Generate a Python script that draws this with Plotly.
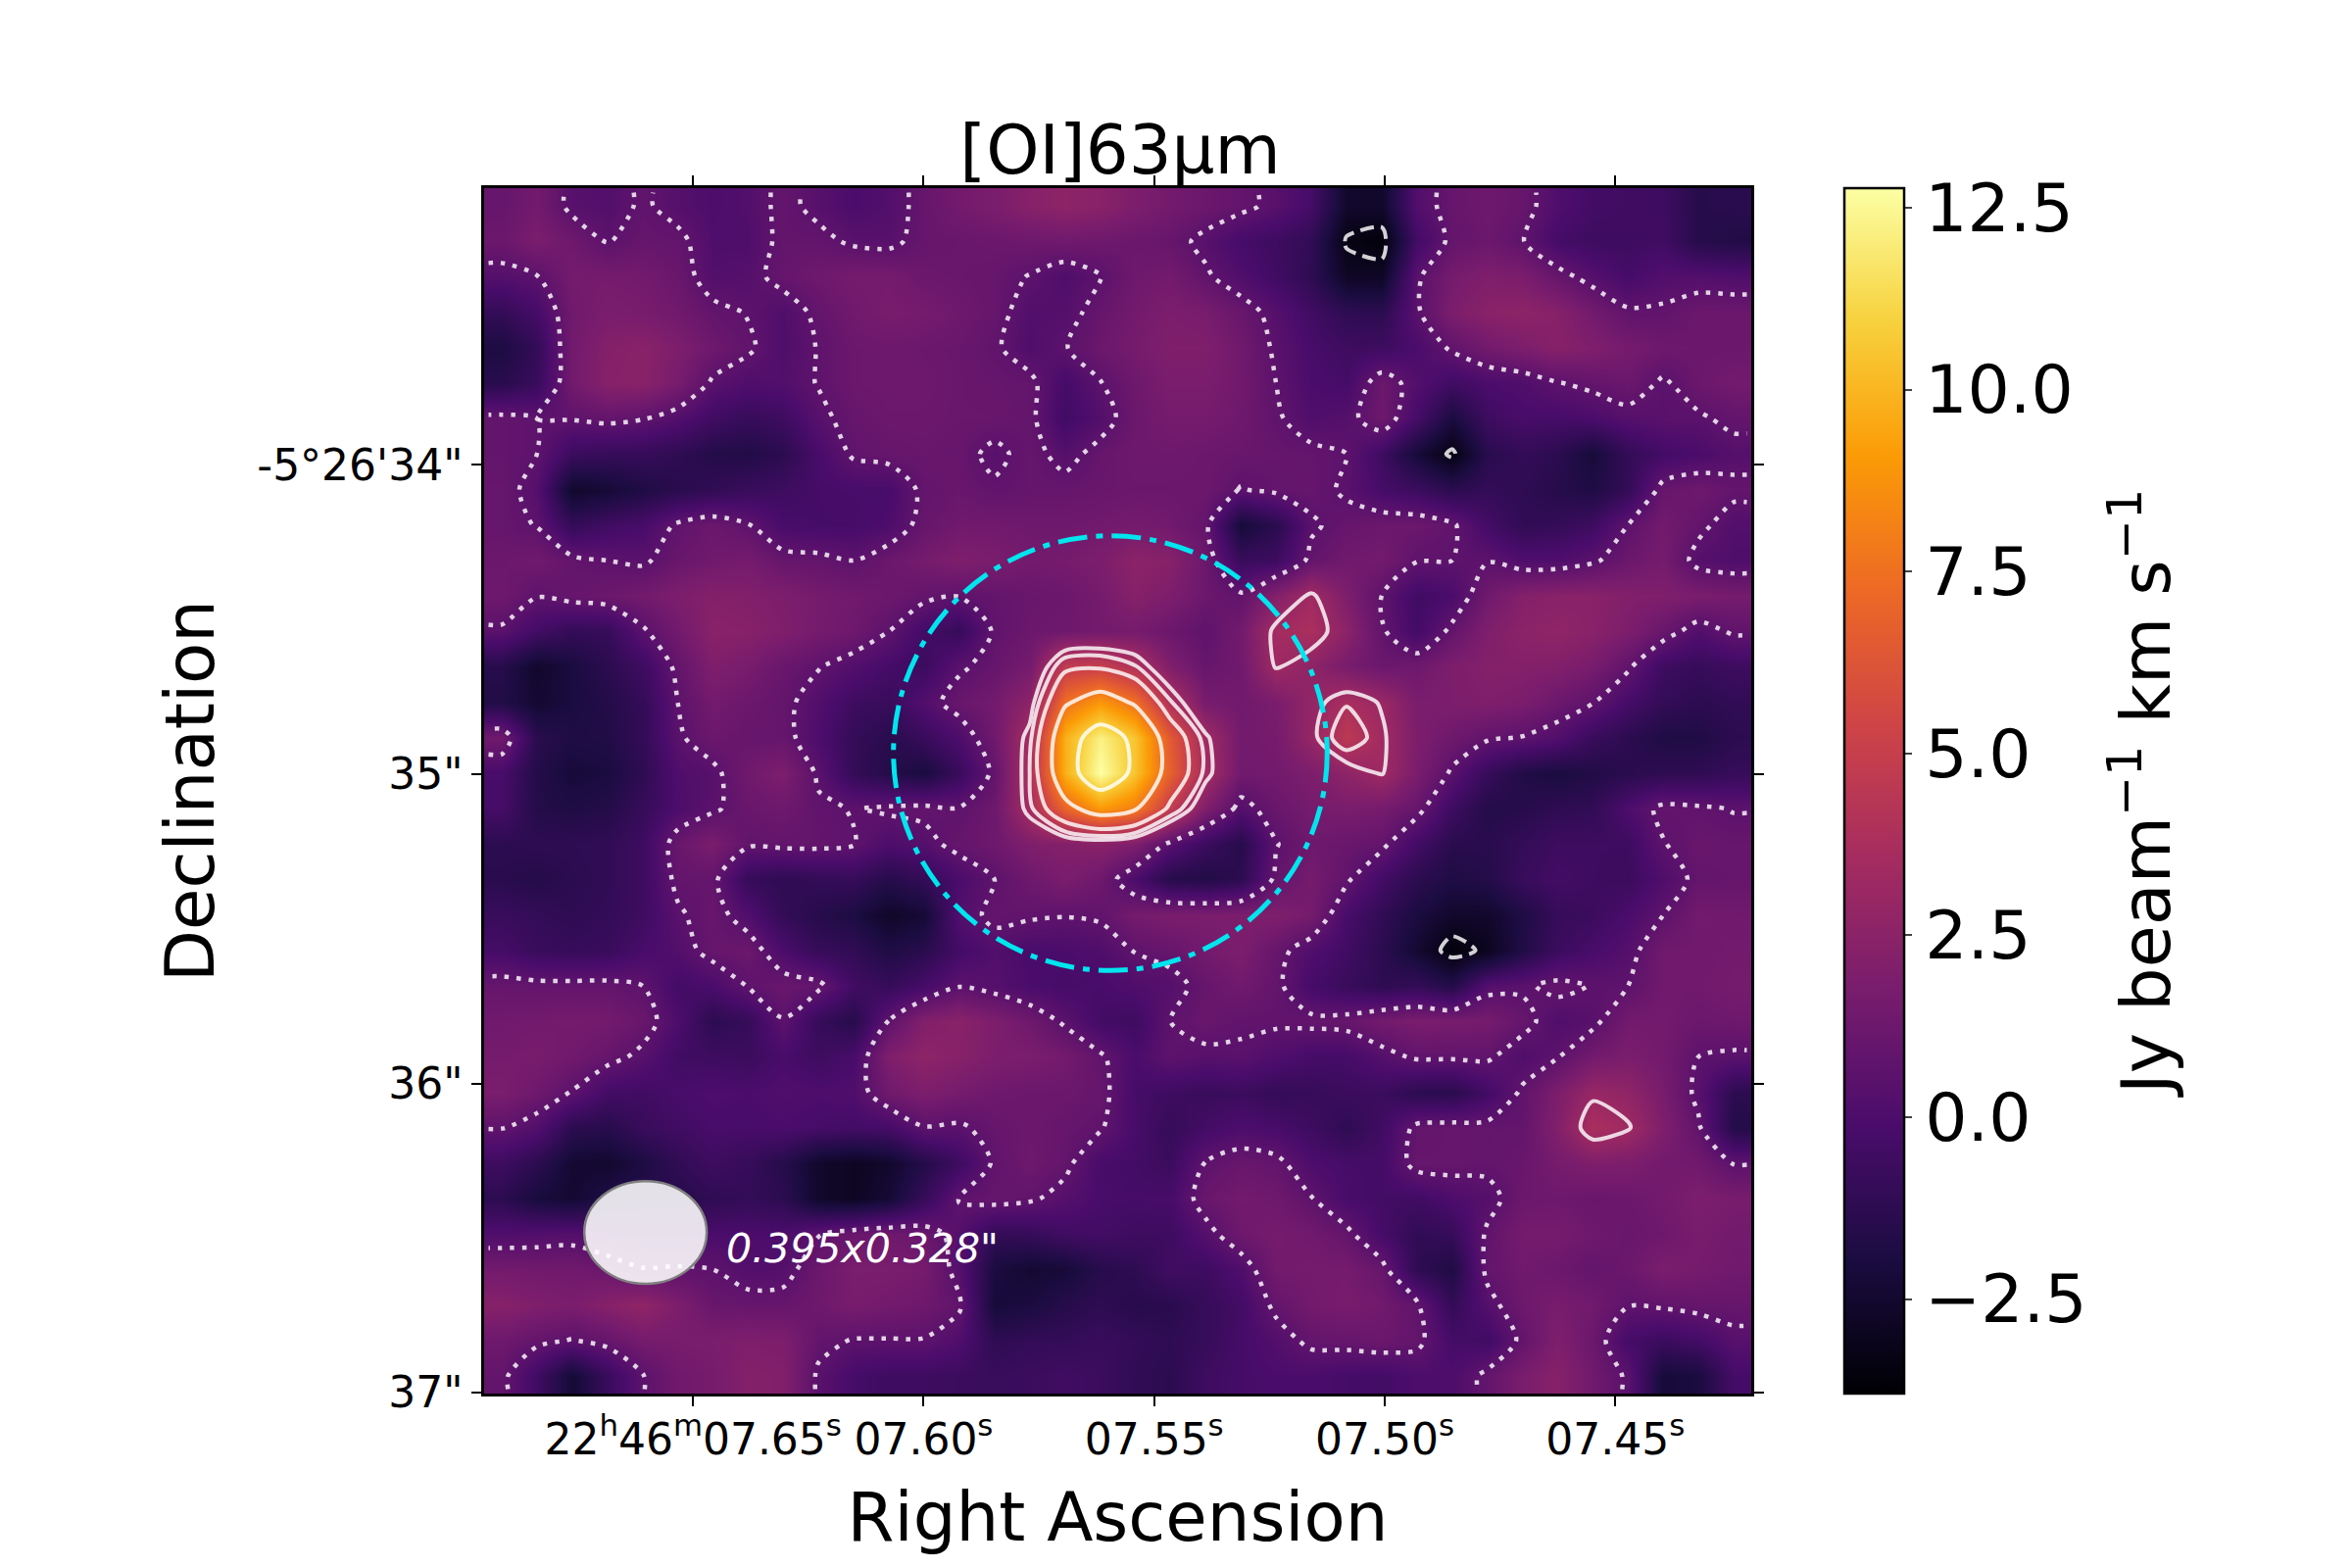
import numpy as np
import plotly.graph_objects as go

# integrated [OI]63um map on a coarse grid (Jy/beam km/s), top row first
flux_rows = [
    [1.0,1.5,0.4,0.2,0.8,0.3, 0.0,0.2,0.9,0.4,-0.1,0.2, 1.0,1.5,1.8,2.3,2.6,2.4, 1.9,1.5,1.2,0.9,0.4,-0.3, -2.6,-2.6,0.2,1.0,1.3,1.0, 0.1,-0.4,-0.5,-0.6,-1.5,-1.4],
    [1.2,1.8,1.3,0.6,1.0,0.9, 0.1,0.1,0.9,0.9,0.5,0.4, 1.0,1.1,1.2,1.3,1.4,1.3, 1.2,1.0,0.4,-0.3,-0.6,-1.1, -3.3,-3.6,-0.4,0.9,1.2,0.7, -0.3,-0.6,-0.6,-0.5,-1.5,-1.7],
    [0.3,0.6,1.6,1.6,1.5,1.1, 0.2,0.3,1.0,1.3,1.6,1.6, 1.2,1.1,1.0,0.6,0.1,0.6, 1.3,1.5,0.8,0.1,-0.5,-1.2, -2.8,-2.8,0.5,1.6,2.0,1.8, 1.0,0.3,-0.3,0.2,0.2,0.1],
    [-1.0,-0.3,1.4,1.8,1.7,1.4, 0.9,0.6,0.1,0.9,1.4,1.7, 1.6,1.3,1.0,0.2,0.3,1.0, 1.5,1.9,1.7,1.1,0.3,-0.5, -1.2,-1.3,0.5,1.9,2.4,2.6, 2.3,1.5,0.8,0.8,1.2,1.2],
    [-1.9,-1.0,1.5,2.2,2.4,1.9, 1.3,0.8,0.1,0.7,1.2,1.3, 1.2,1.1,0.8,0.1,0.6,1.2, 1.6,2.0,2.0,1.4,0.5,-0.2, -0.6,-0.6,-0.1,0.8,1.5,1.9, 2.3,2.0,1.6,1.3,1.2,1.2],
    [-1.4,-0.8,1.5,2.3,2.4,1.7, 0.5,0.1,0.2,0.7,1.2,1.3, 1.3,1.1,1.0,0.9,-0.3,0.6, 1.3,1.8,1.8,1.4,0.65,-0.1, -0.3,1.2,0.2,-0.5,-0.1,0.1, 0.6,0.9,1.2,0.5,1.2,1.5],
    [0.9,0.65,0.7,0.9,0.7,0.2, -0.5,-0.9,-0.6,0.4,1.0,1.2, 1.2,1.1,1.1,0.9,-0.5,0.2, 1.2,1.6,1.6,1.3,0.8,0.1, 0.3,1.3,-0.3,-2.0,-0.6,-0.2, -0.3,-0.1,0.3,0.5,0.5,0.9],
    [0.9,0.65,-0.7,-0.9,-0.9,-1.2, -1.6,-1.7,-1.3,-0.2,0.8,1.0, 1.1,1.0,0.4,1.0,0.3,1.0, 1.3,1.3,1.2,1.1,1.0,0.9, 0.65,-0.6,-2.2,-3.4,-1.4,-1.0, -1.3,-2.2,-1.0,-0.4,-0.1,0.3],
    [1.0,0.3,-2.6,-2.3,-1.8,-1.4, -1.1,-0.8,-0.6,-0.3,-0.2,-0.2, 0.9,1.1,0.8,1.0,1.0,1.1, 1.2,1.2,1.2,0.6,0.9,1.0, 0.5,-0.3,-0.7,-1.3,-1.0,-1.2, -1.5,-1.8,-1.0,1.0,1.3,0.9],
    [1.0,0.6,-1.0,-0.5,-0.2,0.8, 1.2,0.7,-0.2,-0.3,-0.3,0.0, 1.0,1.4,1.4,1.3,1.3,1.4, 1.6,1.4,0.9,-2.2,-1.4,0.5, 1.0,1.2,1.2,0.8,-0.4,-1.1, -1.0,-0.6,0.65,1.5,0.9,0.2],
    [1.2,1.4,0.9,0.65,0.5,1.1, 1.4,1.6,1.0,0.9,0.65,1.2, 1.6,2.0,1.8,1.5,1.6,1.9, 2.5,2.3,1.2,-0.8,-0.6,0.9, 1.4,1.5,0.7,0.65,0.6,0.1, 0.1,0.5,1.2,1.6,0.3,0.1],
    [1.3,0.7,1.0,1.2,1.5,1.9, 2.2,2.1,1.9,1.6,1.4,1.2, 0.9,0.7,0.9,1.1,1.2,1.6, 2.3,1.9,1.2,0.8,2.2,3.4, 1.9,0.65,-0.5,-0.1,1.4,2.2, 2.4,2.4,2.1,2.0,1.8,1.6],
    [0.5,-0.4,-1.0,-0.9,0.5,1.5, 2.4,2.3,2.0,1.6,1.3,0.65, -0.4,-0.9,0.8,1.2,1.3,1.5, 1.6,1.2,0.7,1.5,3.5,3.8, 2.5,0.8,-0.4,0.9,2.0,2.5, 2.7,2.4,1.9,1.1,0.2,0.8],
    [-1.5,-2.6,-2.0,-1.3,-0.6,0.9, 2.0,1.7,1.1,0.7,0.2,-0.3, -0.7,0.5,1.0,1.6,4.8,5.0, 4.0,2.0,1.0,1.4,3.3,2.6, 1.7,1.2,1.3,1.9,2.2,2.2, 2.1,1.7,0.8,-0.6,-0.9,-0.6],
    [-1.7,-2.4,-2.0,-1.6,-1.0,0.65, 1.5,1.2,0.9,0.2,-0.6,-0.8, 0.2,1.1,1.5,2.6,7.5,9.0, 7.5,4.0,1.7,1.4,1.8,2.8, 3.8,3.1,1.8,1.9,2.0,1.8, 1.2,0.7,-0.3,-1.0,-1.3,-1.1],
    [1.4,-1.4,-1.8,-1.7,-1.0,0.5, 1.2,1.0,1.0,0.0,-1.0,-1.4, -0.8,0.0,1.4,3.6,9.8,12.2, 10.5,6.5,3.4,1.5,1.6,2.9, 4.6,3.4,1.9,1.3,0.8,0.6, 0.2,-0.8,-1.3,-1.8,-1.8,-1.3],
    [-0.2,-1.6,-2.2,-2.0,-1.2,0.1, 0.4,1.4,1.9,0.5,-1.0,-1.6, -2.0,-0.8,0.9,3.9,9.8,12.8, 10.5,6.8,3.6,1.4,1.5,1.9, 2.6,3.3,1.8,0.5,-0.9,-1.7, -2.0,-1.7,-1.4,-1.2,-1.2,-0.9],
    [-0.3,-1.6,-1.8,-1.6,-0.9,0.0, 0.5,1.1,1.3,0.8,0.6,0.8, 0.9,0.7,1.3,3.6,7.0,9.0, 8.0,4.8,2.0,0.3,1.1,1.6, 1.8,1.6,1.0,-0.6,-1.6,-1.5, -1.2,-1.1,0.0,0.9,0.8,0.6],
    [-1.3,-1.2,-1.2,-1.1,-0.6,1.1, 1.8,0.8,0.9,0.9,0.7,0.0, 0.3,1.0,1.3,2.0,2.2,2.4, 2.0,0.4,-0.7,-1.5,0.6,1.3, 1.1,0.9,-0.4,-1.4,-1.4,-1.0, -0.6,-0.6,-0.6,0.6,1.1,1.0],
    [-1.4,-1.6,-1.3,-1.1,-0.6,0.9, 0.9,-0.9,-1.2,-1.0,-0.9,-1.5, -1.0,-0.1,0.65,1.3,1.8,1.3, -0.1,-1.5,-1.7,-1.3,0.9,1.6, 0.8,-0.4,-1.3,-1.8,-1.6,-0.8, -0.4,-0.6,-0.7,0.1,0.9,1.0],
    [-0.8,-1.0,-1.2,-1.0,-0.6,0.5, 1.1,0.1,-1.0,-1.5,-1.9,-2.7, -2.3,0.2,0.9,0.8,0.7,0.8, 1.6,1.8,1.8,1.9,2.0,1.6, -0.2,-1.1,-2.0,-2.6,-2.6,-1.8, -0.9,-0.7,-0.1,0.65,1.5,1.4],
    [-0.3,-0.8,-0.9,-0.8,-0.2,0.2, 1.0,1.2,-0.1,-0.9,-1.1,-1.8, -1.4,-0.4,0.2,-0.2,-0.1,0.1, 0.7,1.0,1.5,1.9,1.0,0.1, -0.5,-1.3,-2.4,-3.6,-3.0,-1.7, -0.7,-0.2,0.3,1.4,1.4,1.5],
    [1.0,0.9,0.9,0.9,0.65,-0.4, -0.1,0.7,1.1,0.9,-0.5,-0.9, -0.3,0.6,0.3,-0.1,-0.3,-0.2, 0.1,0.3,1.0,1.4,0.9,-0.3, -0.8,-1.2,-1.0,-1.6,0.3,0.5, 0.9,0.6,0.65,1.4,1.4,1.6],
    [1.4,1.5,1.6,1.5,1.1,0.0, -1.3,-0.9,0.6,-0.9,-1.5,0.7, 2.1,2.4,1.9,1.3,0.5,-0.4, -0.6,0.65,1.1,0.8,0.8,0.9, 1.0,1.5,1.8,1.7,1.6,1.0, 0.1,0.4,1.5,1.5,1.2,1.3],
    [1.6,1.7,1.4,1.0,0.4,-0.5, -0.6,-0.7,-0.2,-0.6,-0.2,2.0, 2.6,2.3,1.9,1.8,1.5,0.8, -0.1,0.65,0.4,0.5,0.1,-0.3, -0.3,0.3,0.8,0.8,0.8,0.1, 0.6,1.5,1.8,1.5,0.65,0.5],
    [1.8,1.3,0.6,-0.4,-0.5,-0.2, 0.0,-0.1,0.1,0.0,0.1,1.4, 1.9,1.6,1.3,1.2,1.2,1.0, -0.3,-0.6,-0.8,-0.7,-1.0,-0.9, -0.7,-0.7,-1.3,-1.4,-0.4,0.8, 1.9,3.0,2.7,1.7,0.4,-1.3],
    [0.7,0.2,-1.3,-1.5,-0.8,-0.5, -0.2,-0.2,-0.1,-0.3,-0.4,-0.3, 0.6,0.5,1.0,1.2,1.0,0.75, -0.2,-0.9,-0.4,0.0,-0.2,-0.6, -1.2,-0.5,0.9,1.0,0.9,0.9, 2.1,3.8,3.3,2.0,0.8,-1.6],
    [-0.6,-1.3,-2.4,-2.5,-1.9,-1.1, -0.6,-0.9,-1.5,-2.6,-2.9,-2.6, -1.6,-0.6,0.8,1.3,0.9,-0.2, -0.4,-0.7,0.7,1.1,0.9,0.0, -0.3,-0.3,1.0,1.0,0.9,1.1, 1.6,2.0,1.9,1.5,1.4,0.6],
    [-1.3,-2.1,-2.4,-1.8,-1.5,-1.5, -1.2,-1.0,-1.3,-2.6,-2.9,-2.3, -0.9,0.7,1.0,0.8,0.3,-0.2, -0.3,-0.2,1.1,1.5,1.3,0.7, -0.2,-0.4,-0.5,0.0,0.3,1.2, 1.3,1.1,1.2,1.5,1.9,1.7],
    [0.1,0.2,0.3,-0.2,-0.3,-0.3, -0.1,-0.1,-0.1,0.6,1.1,1.3, 1.1,0.3,-1.0,-0.9,-0.5,-0.4, -0.6,-0.6,0.3,1.3,1.6,1.4, 0.9,-0.3,-1.1,-0.9,0.8,1.6, 1.6,1.3,1.1,1.3,1.7,1.5],
    [1.5,1.4,1.4,1.2,0.7,0.75, 0.65,0.2,0.3,1.2,1.8,1.8, 1.6,0.3,-2.0,-2.4,-2.2,-1.5, -1.2,-0.5,-0.6,0.1,1.5,1.6, 1.6,1.0,-1.2,-1.8,0.9,1.4, 1.2,0.9,1.2,1.8,1.6,1.4],
    [2.3,2.0,1.8,2.3,2.7,1.9, 1.1,1.0,1.0,1.3,1.7,1.5, 1.3,0.8,-2.2,-2.0,-1.5,-1.2, -1.5,-1.4,-0.9,-0.4,0.9,1.5, 1.7,1.4,0.8,-1.0,0.3,1.3, 1.7,1.4,0.7,0.8,1.0,1.0],
    [1.3,0.9,0.6,1.0,1.6,1.7, 1.8,2.0,1.9,0.9,0.6,0.6, 0.6,0.1,-1.2,-1.0,-1.0,-0.8, -1.0,-1.2,-0.9,-0.3,0.2,0.9, 1.0,1.2,0.9,-0.3,-0.5,0.9, 2.0,1.2,-0.3,-0.7,-0.4,0.4],
    [0.9,-0.5,-2.3,-0.8,0.6,1.4, 1.6,2.2,2.1,0.5,-0.3,-0.6, -0.6,-0.7,-0.8,-0.7,-0.5,-0.7, -1.1,-1.3,-0.6,-0.3,-0.1,-0.1, -0.3,-0.4,0.0,0.0,0.9,1.8, 2.3,1.4,0.5,-2.2,-2.0,-0.3],
]

ra_range = [7.6953, 7.4205]      # seconds of RA, past 22h46m
dec_range = [37.003, 33.105]     # arcsec past -5d26m
ra_ticks = [7.65, 7.60, 7.55, 7.50, 7.45]
ra_labels = ["22<sup>h</sup>46<sup>m</sup>07.65<sup>s</sup>", "07.60<sup>s</sup>", "07.55<sup>s</sup>", "07.50<sup>s</sup>", "07.45<sup>s</sup>"]
dec_ticks = [34, 35, 36, 37]
dec_labels = ["-5°26'34\"", "35\"", "36\"", "37\""]
cbar_ticks = [-2.5, 0, 2.5, 5, 7.5, 10, 12.5]
neg_levels = [-3.2]
low_levels = [0.65]
pos_levels = [3.2, 3.9, 5.2, 7.8, 11.0]
# aperture circle and beam, (ra, dec, ra radius, dec radius)
aperture = (7.5595, 34.932, 0.04703, 0.703)
beam = (7.6603, 36.482, 0.01328, 0.1660)
beam_text = "0.395x0.328\""

FONT = "DejaVu Sans"
WHITE = "rgba(255,255,255,0.82)"
# the page's body margin pushes the figure 8px right and down
W, H, PAGE = 2384, 1584, 8


def px(x):
    return (x - PAGE) / W


def py(y):
    return 1 - (y - PAGE) / H


flux = np.array(flux_rows)
ny, nx = flux.shape
ra_step = (ra_range[1] - ra_range[0]) / nx
dec_step = (dec_range[1] - dec_range[0]) / ny
ra = ra_range[0] + ra_step * (np.arange(nx) + 0.5)
dec = dec_range[1] - dec_step * (np.arange(ny) + 0.5)

# contours run nearly up to the frame, so edge cells are repeated just inside it
ra_c = np.concatenate([[ra_range[0] + ra_step * 0.12], ra, [ra_range[1] - ra_step * 0.12]])
dec_c = np.concatenate([[dec_range[1] - dec_step * 0.12], dec, [dec_range[0] + dec_step * 0.12]])
flux_c = np.pad(flux, 1, mode="edge")

fig = go.Figure()
fig.add_trace(go.Heatmap(
    x=ra, y=dec, z=flux, colorscale="Inferno", zmin=-3.8, zmax=12.77, zsmooth="best", hoverinfo="skip",
    colorbar=dict(
        x=px(1882), xanchor="left", y=py(1422), yanchor="bottom", len=(1422 - 192) / H, lenmode="fraction",
        thickness=61, xpad=0, ypad=0, outlinewidth=2.5, outlinecolor="black",
        tickmode="array", tickvals=cbar_ticks, tickformat=".1f", ticks="outside", ticklen=7, tickwidth=2,
        tickfont=dict(family=FONT, size=68, color="black"),
    ),
))


def add_levels(levels, dash, width):
    for level in levels:
        fig.add_trace(go.Contour(
            x=ra_c, y=dec_c, z=flux_c, showscale=False, hoverinfo="skip",
            contours=dict(coloring="none", start=level, end=level, size=1),
            line=dict(color=WHITE, width=width, dash=dash, smoothing=0.8),
        ))


add_levels(low_levels, "4.5px,8px", 4.5)
add_levels(neg_levels, "14px,7px", 4)
add_levels(pos_levels, "solid", 4)

fig.add_shape(type="circle", xref="x", yref="y",
              x0=aperture[0] - aperture[2], x1=aperture[0] + aperture[2],
              y0=aperture[1] - aperture[3], y1=aperture[1] + aperture[3],
              line=dict(color="#00e5ee", width=5, dash="30px,9px,7px,9px"))
fig.add_shape(type="circle", xref="x", yref="y",
              x0=beam[0] - beam[2], x1=beam[0] + beam[2],
              y0=beam[1] - beam[3], y1=beam[1] + beam[3],
              fillcolor="rgba(255,255,255,0.88)", line=dict(color="#808080", width=2.5))
fig.add_annotation(x=px(739), y=py(1274), xref="paper", yref="paper", xanchor="left", yanchor="middle",
                   text=f"<i>{beam_text}</i>", showarrow=False, font=dict(family=FONT, size=41, color="white"))
fig.add_annotation(x=px(2186), y=py(810), xref="paper", yref="paper", xanchor="center", yanchor="middle",
                   text="Jy beam<sup>−1</sup> km s<sup>−1</sup>", textangle=-90, showarrow=False,
                   font=dict(family=FONT, size=70, color="black"))

axis_common = dict(showgrid=False, zeroline=False, showline=True, linecolor="black", linewidth=2.5,
                   mirror="ticks", ticks="outside", ticklen=10, tickwidth=2, tickcolor="black",
                   tickmode="array", automargin=False, tickfont=dict(family=FONT, size=44, color="black"))

fig.update_layout(
    width=W, height=H, margin=dict(l=0, r=0, t=0, b=0), autosize=False,
    paper_bgcolor="white", plot_bgcolor="white", showlegend=False,
    title=dict(text="[OI]63µm", x=px(1143), xanchor="center", y=py(153), yanchor="middle",
               font=dict(family=FONT, size=69, color="black")),
    xaxis=dict(domain=[px(494), px(1787)], range=ra_range, tickvals=ra_ticks, ticktext=ra_labels, ticklabelstandoff=-4,
               title=dict(text="Right Ascension", standoff=32, font=dict(family=FONT, size=69, color="black")),
               **axis_common),
    yaxis=dict(domain=[py(1422), py(192)], range=dec_range, tickvals=dec_ticks, ticktext=dec_labels,
               title=dict(text="Declination", standoff=22, font=dict(family=FONT, size=69, color="black")),
               **axis_common),
)

fig.write_html("out.html")
